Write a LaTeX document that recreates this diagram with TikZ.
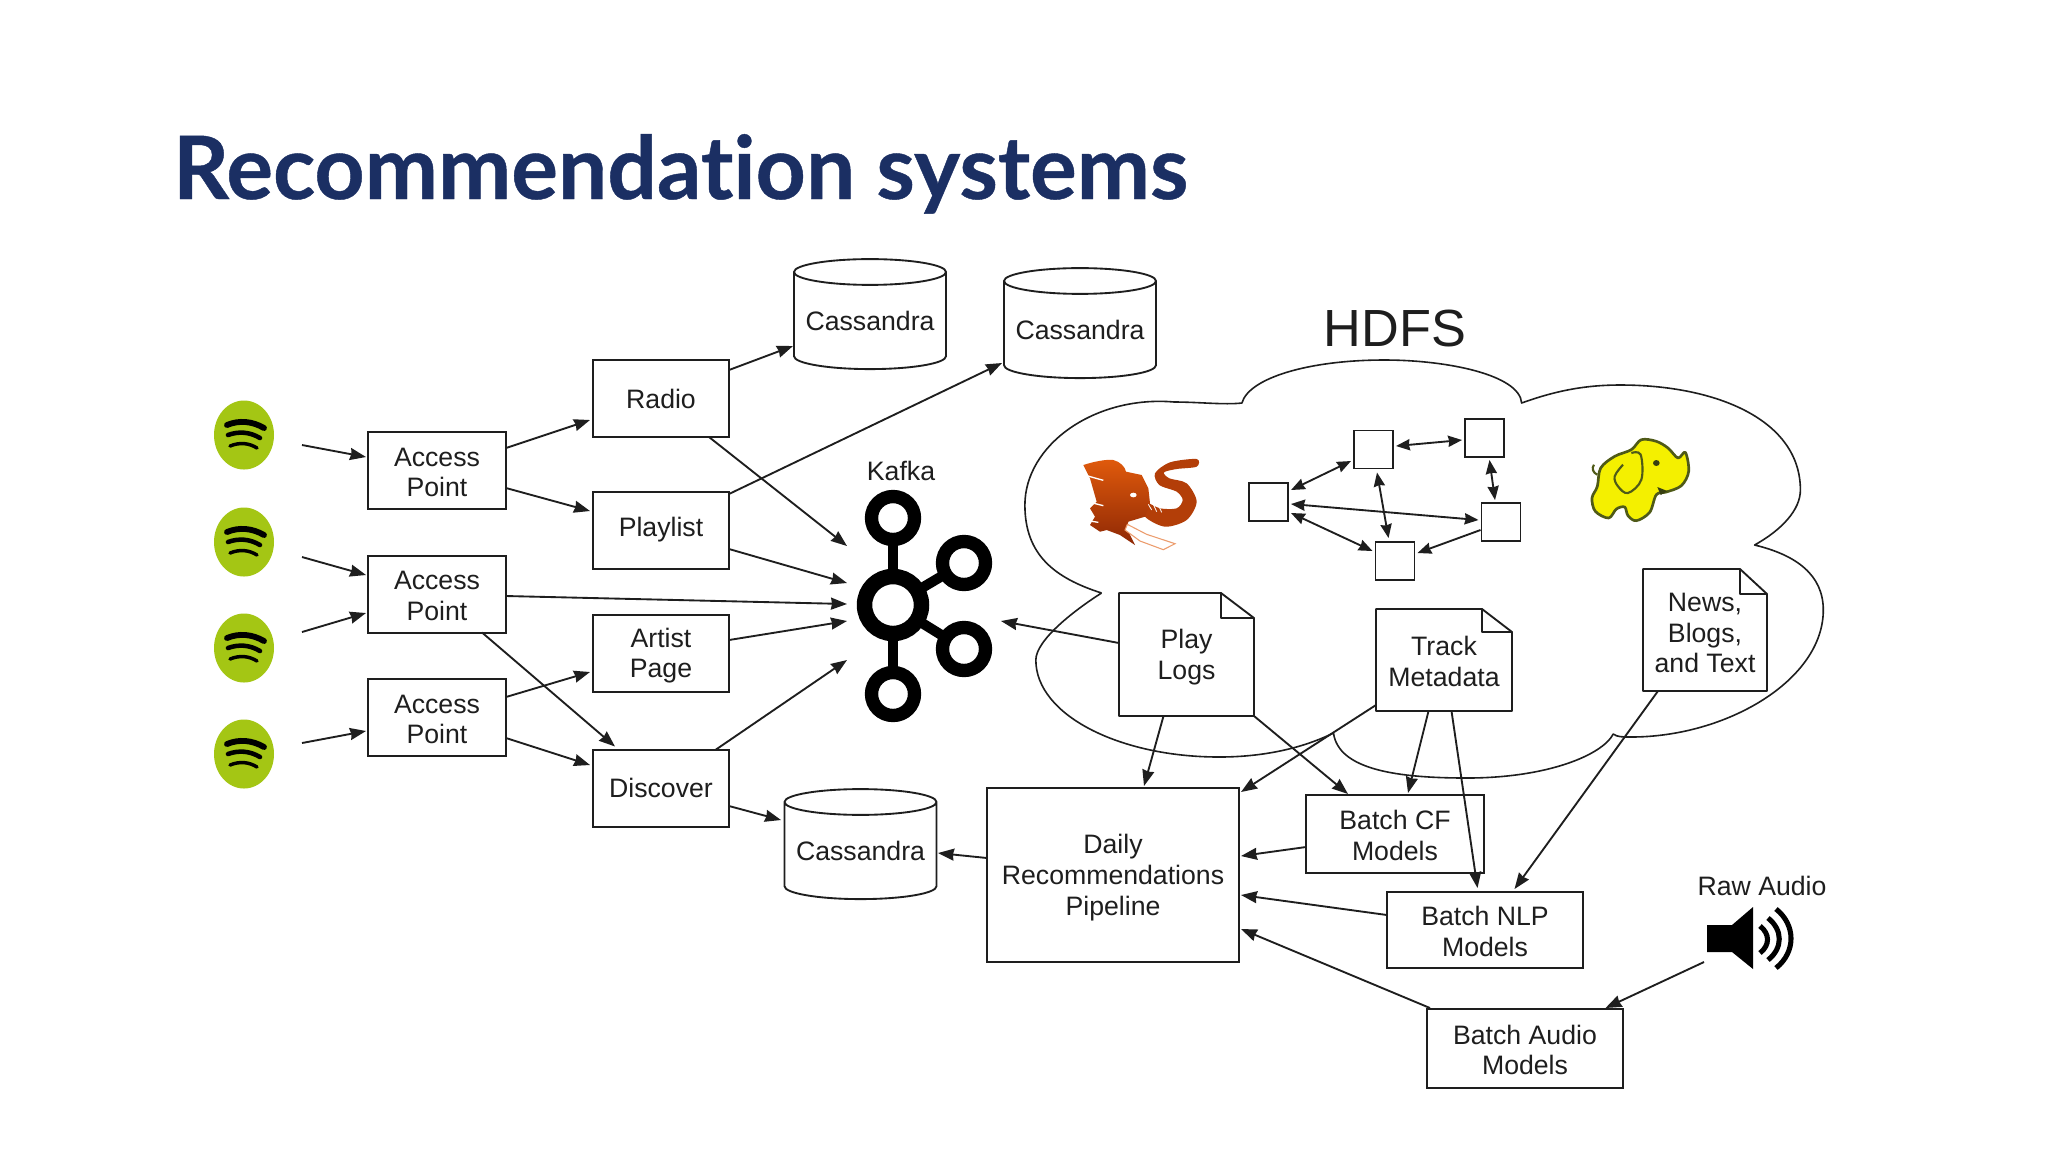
\documentclass[tikz,border=0pt]{standalone}
\usepackage{fontspec}
\setmainfont{Liberation Sans}
\newfontfamily\ttlfont{Lato}[Ligatures=NoCommon,BoldFeatures={FakeBold=0.5}]
\usetikzlibrary{arrows.meta,shapes.geometric,calc}
\definecolor{ink}{HTML}{1E1E1E}
\definecolor{navy}{HTML}{1B2F63}
\definecolor{spot}{HTML}{A4C614}
\definecolor{hadoopy}{HTML}{F4F000}
\definecolor{hadoopl}{HTML}{4F5A18}
\definecolor{redA}{HTML}{E05A0C}
\definecolor{redB}{HTML}{8E2805}
\newcommand{\dn}{\rule{0pt}{8.4pt}}
\newcommand{\dnn}{\rule{0pt}{9.2pt}}
\tikzset{
  every node/.style={inner sep=0pt,outer sep=0pt,text=ink},
  lbl/.style={font=\fontsize{10}{11.5}\selectfont,align=center},
  bx/.style 2 args={lbl,draw=ink,line width=0.75pt,fill=white,rectangle,minimum width=#1*0.375pt,minimum height=#2*0.375pt},
  docb/.style 2 args={lbl,fill=white,rectangle,minimum width=#1*0.375pt,minimum height=#2*0.375pt},
  outline/.style={draw=ink,line width=0.7pt,line join=round},
  conn/.style={draw=ink,line width=0.7pt,-{Stealth[length=6pt,width=4.5pt,inset=0.4pt]}},
  conb/.style={draw=ink,line width=0.7pt,{Stealth[length=5.2pt,width=4.2pt,inset=0.4pt]}-{Stealth[length=5.2pt,width=4.2pt,inset=0.4pt]}},
  cyl/.style={lbl,cylinder,draw=ink,line width=0.7pt,fill=white,shape border rotate=90,aspect=0.2,minimum width=152*0.375pt,minimum height=110*0.375pt},
  spotdot/.style={ellipse,fill=spot,minimum width=60*0.375pt,minimum height=69*0.375pt},
  ring/.style={circle,draw=black,minimum size=#1*0.375pt},
  sbar/.style={draw=black,line cap=round},
  mini/.style={rectangle,draw=ink,line width=0.7pt,fill=white,minimum width=39*0.375pt,minimum height=38*0.375pt},
}
\newcommand{\spotbars}[1]{%
  \draw[sbar,line width=2.2pt] ([shift={(-17,-10)}]#1.center) .. controls ([shift={(-5,-15)}]#1.center) and ([shift={(8,-14)}]#1.center) .. ([shift={(20,-7)}]#1.center);
  \draw[sbar,line width=1.7pt] ([shift={(-16,0)}]#1.center) .. controls ([shift={(-5,-4)}]#1.center) and ([shift={(6,-3)}]#1.center) .. ([shift={(16,3)}]#1.center);
  \draw[sbar,line width=1.3pt] ([shift={(-14,11)}]#1.center) .. controls ([shift={(-4,7)}]#1.center) and ([shift={(5,8)}]#1.center) .. ([shift={(13,13)}]#1.center);
}
\newcommand{\docoutline}[3]{%
  \draw[outline] (#1.north west) -- ([shift={(-#2,0)}]#1.north east) -- ([shift={(0,#3)}]#1.north east)
     -- (#1.south east) -- (#1.south west) -- cycle;
  \draw[outline] ([shift={(-#2,0)}]#1.north east) -- ([shift={(-#2,#3)}]#1.north east) -- ([shift={(0,#3)}]#1.north east);
}
\begin{document}
\begin{tikzpicture}[x=0.375pt,y=-0.375pt]
\useasboundingbox (0,0) rectangle (2048,1152);
\fill[white] (0,0) rectangle (2048,1152);

% title
\node[anchor=base west,text=navy,font=\ttlfont\bfseries\fontsize{32.8}{36}\selectfont] (title) at (173,199) {Recommendation systems};

% cloud
\begin{scope}[shift={(1000,0)},xscale=0.9955,shift={(-1000,0)}]
\draw[outline,line width=0.6pt] (1102,593) .. controls (1055,578) and (1025,555) .. (1025,505)
 .. controls (1025,445) and (1095,395) .. (1175,402)
 .. controls (1200,402) and (1225,405) .. (1243,403)
 .. controls (1250,378) and (1310,360) .. (1386,360)
 .. controls (1450,360) and (1522,375) .. (1524,403)
 .. controls (1560,390) and (1590,385) .. (1623,385)
 .. controls (1720,385) and (1804,420) .. (1804,490)
 .. controls (1804,510) and (1785,530) .. (1758,545)
 .. controls (1800,555) and (1827,575) .. (1827,610)
 .. controls (1827,680) and (1730,737) .. (1634,737)
 .. controls (1625,737) and (1620,737) .. (1616,734)
 .. controls (1605,755) and (1550,778) .. (1469,778)
 .. controls (1400,778) and (1340,770) .. (1335,733)
 .. controls (1300,750) and (1260,757) .. (1220,757)
 .. controls (1120,757) and (1036,715) .. (1036,660)
 .. controls (1036,640) and (1075,610) .. (1102,593);
\end{scope}
\node[font=\fontsize{19.6}{22}\selectfont] (hdfs) at (1395,328) {HDFS};

% spotify
\foreach \n/\yy in {sp1/435,sp2/542,sp3/648,sp4/754}{
  \node[spotdot] (\n) at (244,\yy) {};
  \spotbars{\n}
}

% boxes
\node[bx={138}{77}] (ap1) at (437,470.5) {\dn Access\\Point};
\node[bx={138}{77}] (ap2) at (437,594) {\dn Access\\Point};
\node[bx={138}{77}] (ap3) at (437,717.5) {\dn Access\\Point};
\node[bx={136}{77}] (radio) at (661,398.5) {Radio};
\node[bx={136}{77}] (playlist) at (661,530) {Playlist};
\node[bx={136}{77}] (artist) at (661,653) {\dnn Artist\\Page};
\node[bx={136}{77}] (discover) at (661,788) {Discover};
\node[cyl] (c1) at (870,321) {Cassandra};
\node[cyl] (c2) at (1080,330) {Cassandra};
\node[cyl] (c3) at (860.5,851) {Cassandra};
\node[bx={252}{174}] (pipe) at (1113,875) {\dnn Daily\\Recommendations\\Pipeline};
\node[bx={178}{78}] (cf) at (1395,834) {\dn Batch CF\\Models};
\node[bx={196}{76}] (nlp) at (1485,930) {\dn Batch NLP\\Models};
\node[bx={196}{79}] (audio) at (1525,1048.5) {\dn Batch Audio\\Models};

% documents
\node[docb={135}{123}] (play) at (1186.5,654.5) {\dnn Play\\Logs};
\docoutline{play}{33}{25}
\node[docb={136}{102}] (track) at (1444,660) {\dn Track\\Metadata};
\docoutline{track}{30}{23}
\node[docb={124}{122}] (news) at (1705,630) {\dnn News,\\Blogs,\\and Text};
\docoutline{news}{27}{25}

% kafka
\node[lbl] (kafkalabel) at (901,471) {Kafka};
\node[ring=57,line width=5.8pt] (kafka) at (893,605) {};
\node[ring=43,line width=5pt] (k1) at (893,518) {};
\node[ring=43,line width=5pt] (k2) at (964,563) {};
\node[ring=43,line width=5pt] (k3) at (964,649) {};
\node[ring=43,line width=5pt] (k4) at (893,694) {};
\foreach \k in {k1,k2,k3,k4}{\draw[black,line width=3.8pt] (kafka) -- (\k);}

% hdfs cluster
\node[mini] (n1) at (1268.5,502) {};
\node[mini] (n2) at (1373.5,449.5) {};
\node[mini] (n3) at (1484.5,438) {};
\node[mini] (n4) at (1501,522) {};
\node[mini] (n5) at (1395,561) {};
\draw[conb] ([shift={(3,-3.5)}]n2.east) -- ([shift={(-3,2)}]n3.west);
\draw[conb] ([shift={(5,3)}]n3.south) -- ([shift={(-6,-3)}]n4.north);
\draw[conb] ([shift={(-3,11.5)}]n2.west) -- ([shift={(3,-12)}]n1.east);
\draw[conb] ([shift={(3.5,4)}]n2.south) -- ([shift={(-6.5,-4)}]n5.north);
\draw[conb] ([shift={(3,2)}]n1.east) -- ([shift={(-3,-2)}]n4.west);
\draw[conb] ([shift={(3,11)}]n1.east) -- ([shift={(-3,-10)}]n5.west);
\draw[conn,-{Stealth[length=5.2pt,width=4.2pt,inset=0.4pt]}] ([shift={(-1,8)}]n4.west) -- ([shift={(3,-8)}]n5.east);

% input arrows
\draw[conn] ([shift={(28,10)}]sp1.east) -- ([shift={(-2,-13.5)}]ap1.west);
\draw[conn] ([shift={(28,15)}]sp2.east) -- ([shift={(-2,-19)}]ap2.west);
\draw[conn] ([shift={(28,-16)}]sp3.east) -- ([shift={(-2,19)}]ap2.west);
\draw[conn] ([shift={(28,-11)}]sp4.east) -- ([shift={(-2,13.5)}]ap3.west);
\draw[conn] ([shift={(0,-22.5)}]ap1.east) -- ([shift={(-3,21.5)}]radio.west);
\draw[conn] ([shift={(0,17.5)}]ap1.east) -- ([shift={(-3,-19)}]playlist.west);
\draw[conn] ([shift={(0,2)}]ap2.east) -- ([shift={(-46,-1)}]kafka.center);
\draw[conn] ([shift={(45,0)}]ap2.south) -- ([shift={(-46,-3)}]discover.north);
\draw[conn] ([shift={(0,-20.5)}]ap3.east) -- ([shift={(-3,19)}]artist.west);
\draw[conn] ([shift={(0,20.5)}]ap3.east) -- ([shift={(-3,-23)}]discover.west);
\draw[conn] ([shift={(0,-28.5)}]radio.east) -- ([shift={(-77,25)}]c1.center);
\draw[conn] ([shift={(0,-36)}]playlist.east) -- ([shift={(-78,33)}]c2.center);
\draw[conn] ([shift={(48,0)}]radio.south) -- ([shift={(-46,-59)}]kafka.center);
\draw[conn] ([shift={(0,19)}]playlist.east) -- ([shift={(-46,-22)}]kafka.center);
\draw[conn] ([shift={(0,-13)}]artist.east) -- ([shift={(-46,16)}]kafka.center);
\draw[conn] ([shift={(55,0)}]discover.north) -- ([shift={(-46,55)}]kafka.center);
\draw[conn] ([shift={(0,18)}]discover.east) -- ([shift={(-79.5,-31)}]c3.center);
\draw[conn] ([shift={(0,-17)}]pipe.west) -- ([shift={(77.5,2)}]c3.center);
\draw[conn] ([shift={(0,-11.5)}]play.west) -- ([shift={(108,16)}]kafka.center);
\draw[conn] ([shift={(-23,0)}]play.south) -- ([shift={(31,-2)}]pipe.north);
\draw[conn] (play.south east) -- ([shift={(-47,-1)}]cf.north);
\draw[conn] ([shift={(0,-6)}]track.south west) -- ([shift={(2,4)}]pipe.north east);
\draw[conn] ([shift={(-15.5,0)}]track.south) -- ([shift={(13,-2)}]cf.north);
\draw[conn] ([shift={(7.5,0)}]track.south) -- ([shift={(-7.5,-4)}]nlp.north);
\draw[conn] ([shift={(-47,0)}]news.south) -- ([shift={(29.5,-3)}]nlp.north);
\draw[conn] ([shift={(0,13)}]cf.west) -- ([shift={(2,-19)}]pipe.east);
\draw[conn] ([shift={(0,-15)}]nlp.west) -- ([shift={(2,20)}]pipe.east);
\draw[conn] ([shift={(3,-1)}]audio.north west) -- ([shift={(2,54)}]pipe.east);

% raw audio
\node[lbl] (rawaudio) at (1762,886) {Raw Audio};
\coordinate (spk) at (1704,962);
\fill[black] (1707,925) -- (1732,925) -- (1753,907) -- (1753,969) -- (1732,952) -- (1707,952) -- cycle;
\draw[black,line width=1.9pt] (1760,926) .. controls (1770,934) and (1770,945) .. (1760,953);
\draw[black,line width=1.9pt] (1768,918) .. controls (1783,930) and (1783,948) .. (1768,960);
\draw[black,line width=1.9pt] (1776,909) .. controls (1796,925) and (1796,952) .. (1776,968);
\draw[conn] (spk) -- ([shift={(80.5,-1)}]audio.north);

% red elephant (zoom coordinates)
\begin{scope}[shift={(1070,445)},x=0.125pt,y=-0.125pt]
  \fill[redB!55!redA] plot[smooth cycle,tension=0.5] coordinates {(380,42) (300,52) (255,85) (268,120) (320,140) (338,165) (320,190) (270,190) (225,172) (225,215) (285,245) (350,225) (380,170) (350,115) (298,100) (282,82) (320,72) (380,65)};
  \path[top color=redA,bottom color=redB] (40,60) .. controls (70,50) and (110,42) .. (130,45) .. controls (150,50) and (165,65) .. (168,80) -- (215,90) -- (235,130) -- (240,175) -- (225,215) -- (175,230) -- (170,250) -- (195,300) -- (150,270) -- (110,255) -- (90,260) -- (60,240) -- (75,215) -- (60,190) -- (80,170) -- (60,100) -- cycle;
  \draw[white,line width=0.5pt] (50,92) -- (100,106) (72,175) -- (100,182) (60,228) -- (85,232);
  \draw[white,line width=0.3pt] (235,178) -- (245,195) (250,178) -- (260,200) (265,180) -- (275,202);
  \draw[redA!60,line width=0.4pt,fill=white] (172,238) -- (230,268) -- (315,296) -- (280,314) -- (210,288) -- (165,255) -- cycle;
  \fill[white] (190,150) ellipse (10 and 7);
\end{scope}

% yellow elephant (zoom coordinates)
\begin{scope}[shift={(1578,423)},x=0.125pt,y=-0.125pt]
  \draw[hadoopl,line width=0.8pt] (48,125) .. controls (40,135) and (45,150) .. (58,155);
  \draw[hadoopl,line width=1pt,fill=hadoopy,line join=round] plot[smooth cycle,tension=0.55] coordinates {
    (322,88) (300,105) (270,75) (235,55) (190,50) (160,80) (110,100) (68,135) (58,190) (42,225) (52,265) (92,285) (115,258) (140,252) (150,278) (175,293) (215,268) (235,215) (265,207) (310,188) (332,145)};
  \draw[hadoopl,line width=0.8pt] plot[smooth,tension=0.6] coordinates {(160,90) (188,95) (190,170) (150,210) (120,190) (110,160) (135,125)};
  \fill[hadoopl!70!black] (235,120) ellipse (10 and 9);
  \fill[hadoopl!70!black] (238,192) -- (268,204) -- (248,216) -- cycle;
\end{scope}
\end{tikzpicture}
\end{document}
